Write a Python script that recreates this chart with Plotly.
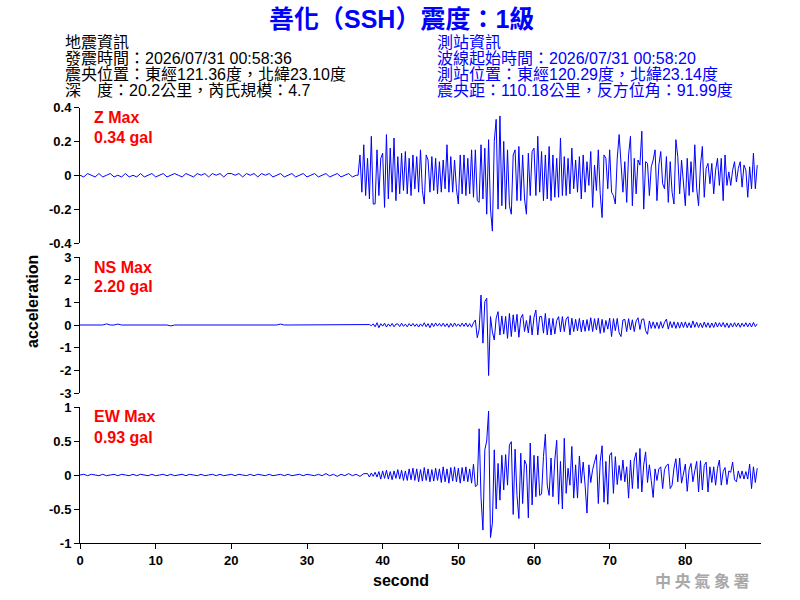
import numpy as np
import plotly.graph_objects as go

# ---------------- data (units: 0.01 gal) ----------------
# quiet part sampled every 0.5 s from t=0, active part every 0.25 s
z_quiet = [0,-1,1,0,-1,1,-1,0,1,-1, 0,-1,1,-1,0,-1,1,-1,0,1,
           -1,0,1,-1,0,1,0,-1,1,0, -1,1,0,1,-1,1,0,1,-1,1,
           1,0,1,-1,1,0,1,-1,1,0, 1,-1,0,1,-1,0,1,-1,0,1,
           -1,0,1,-1,0,1,-1,0,1,-1, 0,1,-1,0]
z_active_start = 36.75
z_active = [0,
    12,-10,18,-12, 10,-14,23,-17, -17,15,-12,10, 13,-19,24,-14, 16,-10,22,-15,
    11,-11,13,-9, 14,-11,10,-12, 12,-8,11,-10, 15,-9,-17,12, 9,-10,11,-9,
    10,-11,8,-10, 9,-8,18,-10, 11,-10,9,-8, -17,12,-11,12, -12,10,-11,15,
    -13,15,-15,-16, 18,-14,16,-23, 21,-20,-33,20, 33,-20,35,-18, 20,-20,15,-18,
    -23,12,15,-15, 17,-15,12,-14, -23,13,-12,14, 16,-12,23,-10, 14,-15,12,-14,
    17,-15,12,-13, 10,-13,22,-12, 11,-12,10,-11, 16,-8,9,-10, 11,-14,12,-10,
    8,-6,14,-19, 6,-9,15,-11, -25,12,10,-8, 15,-10,-12,-17, 10,24,9,-10,
    8,-16,12,23, -18,10,-11,9, 6,26,-20,8, 7,-12,5,9, 15,-15,6,14,
    -5,-8,11,-16, 8,-10,-17,21, 11,-11,9,-6, -18,10,-12,8, -10,18,-8,-18,
    6,17,-13,4, 7,-5,7,-11, 3,10,-6,10, -15,12,-6,2, -6,3,8,-4,
    4,8,-7,6, 3,-13,5,-8, 13,-8,6]

ns_quiet = [0,0,0,0,0,0,0,5,0,0, 4,0,0,0,0,0,0,0,0,0,
            0,0,0,0,-4,0,0,0,0,0, 0,0,0,0,0,0,0,0,0,0,
            0,0,0,0,0,0,0,0,0,0, 0,0,0,4,0,0,0,0,0,0,
            0,0,0,0,0,0,0,0,0,0, 0,0,0,0,0,0]
ns_active_start = 38.0
ns_active = [
    0,2,-3,5, -8,10,-12,6, -5,8,-9,5, -6,7,-8,4, 5,-7,8,-6,
    4,-8,6,-5, 7,-6,5,-9, 5,-6,10,-8, 6,-12,8,-7, 9,-5,7,-6,
    8,-7,6,-10, 7,-8,9,-6, 5,-7,8,-6, 9,-8,6,-10, 10,22,-56,-20,
    132,-80,103,118, -223,37,-30,-66, 30,59,-44,40, -40,38,-59,51, -51,45,-30,47,
    -54,30,47,-29, 20,-35,42,-44, 35,66,-44,37, 38,-36,51,-44, 30,-44,29,-40,
    20,37,-30,37, -29,26,37,-44, 30,-29,25,-26, 29,-30,22,-28, 24,-25,32,-29,
    28,-22,30,-37, 25,-33,20,-18, 30,-51,28,-25, 29,-35,-51,22, 25,-29,28,-22,
    23,-29,18,32, -20,25,27,-25, -41,18,-15,14, -15,12,-16,15, -14,12,26,-18,
    15,-12,14,-15, 12,-14,13,-11, 14,-12,10,-13, 18,-10,12,-11, 9,-12,13,-10,
    10,-12,9,-11, 12,-9,10,-8, 11,-10,9,-12, 8,-9,10,-8, 9,-10,8,-7,
    10,-8,9,-9, 11,-7,5]

ew_quiet = [0,1,-1,1,0,-1,1,-1,0,1, -1,1,0,-1,1,-1,1,0,-1,1,
            -1,0,1,-1,1,-1,0,1,-1,1, 0,-1,1,-1,0,1,-1,1,-1,0,
            1,-1,1,0,-1,1,-1,1,0,-1, 1,-1,0,1,-1,1,-1,0,1,-1,
            1,0,-1,1,-1,2,-1,1,-2,1, -1,2,-1,1,-2,2]
ew_active_start = 38.0
ew_active = [
    2,-3,3,-2, 4,-3,5,-6, 6,-5,7,-6, 5,-7,6,-5, 8,-6,7,-8,
    6,-8,9,-7, 10,-8,9,-10, 8,-9,11,-8, 9,-10,8,-9, 10,-8,9,-11,
    12,-10,9,-12, 11,-9,12,-10, 10,-12,11,-9, 12,-10,9,-12, 16,-17,-15,68,
    -33,-81,37,50, 94,-92,-71,37, -50,17,-37,29, -22,30,-15,44, 49,-58,38,-30,
    -64,32,-42,22, 15,-63,47,-44, 29,-32,28,-30, -28,27,60,-15, -30,25,-32,22,
    51,-43,20,-50, 54,-27,10,-15, 42,-34,15,-34, 28,-12,19,-15, -56,15,-11,8,
    19,30,-42,20, 43,-40,20,-43, 29,33,-27,27, -14,14,-8,22, -10,12,-34,22,
    -20,22,33,-20, 39,-25,15,34, -11,15,-8,-33, 9,-8,9,12, -20,8,14,16,
    -20,-15,10,24, -10,25,-12,5, 16,-24,8,17, -10,6,20,-25, 21,-22,14,19,
    -25,12,-11,12, -15,10,22,-15, 5,11,-14,6, 4,19,-7,-10, 6,-5,6,-6,
    5,-6,16,-20, 12,-11,10]

components = ["Z", "NS", "EW"]
max_labels = ["0.34 gal", "2.20 gal", "0.93 gal"]
y_ranges = [[-0.4, 0.4], [-3, 3], [-1, 1]]
y_ticks = [[-0.4, -0.2, 0, 0.2, 0.4], [-3, -2, -1, 0, 1, 2, 3], [-1, -0.5, 0, 0.5, 1]]
y_ticktext = [["-0.4", "-0.2", "0", "0.2", "0.4"],
              ["-3", "-2", "-1", "0", "1", "2", "3"],
              ["-1", "-0.5", "0", "0.5", "1"]]
x_ticks = [0, 10, 20, 30, 40, 50, 60, 70, 80]

info_left = ["地震資訊", "發震時間：2026/07/31 00:58:36",
             "震央位置：東經121.36度，北緯23.10度", "深　度：20.2公里，芮氏規模：4.7"]
info_right = ["測站資訊", "波線起始時間：2026/07/31 00:58:20",
              "測站位置：東經120.29度，北緯23.14度", "震央距：110.18公里，反方位角：91.99度"]


def build(quiet, start, active):
    tq = np.arange(len(quiet)) * 0.5
    ta = start + np.arange(len(active)) * 0.25
    t = np.concatenate([tq, ta])
    v = np.concatenate([np.array(quiet, float), np.array(active, float)]) * 0.01
    return t, v


series = [build(z_quiet, z_active_start, z_active),
          build(ns_quiet, ns_active_start, ns_active),
          build(ew_quiet, ew_active_start, ew_active)]

W, H = 800, 600
LAT = "Liberation Sans, Arial, Noto Sans CJK TC"

# pixel layout of the three panels (top, bottom)
panels = [(107.5, 243), (257, 393), (407, 543)]
x0px, x1px = 80, 761

fig = go.Figure()
layout = dict(width=W, height=H, margin=dict(l=0, r=0, t=0, b=0, autoexpand=False),
              paper_bgcolor="white", plot_bgcolor="white", showlegend=False)

for i, (t, v) in enumerate(series):
    n = "" if i == 0 else str(i + 1)
    fig.add_trace(go.Scatter(x=t, y=v, mode="lines", line=dict(color="#0000FF", width=1),
                             xaxis="x" + n, yaxis="y" + n, hoverinfo="skip"))
    top, bot = panels[i]
    layout["xaxis" + n] = dict(domain=[x0px / W, x1px / W], range=[0, 90], anchor="y" + n,
                               automargin=False, showgrid=False, zeroline=False,
                               showline=(i == 2), linecolor="black", linewidth=1,
                               ticks="outside" if i == 2 else "", ticklen=5, tickcolor="black",
                               tickvals=x_ticks, showticklabels=(i == 2),
                               tickfont=dict(family=LAT, size=13, color="black", weight="bold"))
    layout["yaxis" + n] = dict(domain=[1 - bot / H, 1 - top / H], range=y_ranges[i],
                               anchor="x" + n, automargin=False, showgrid=False, zeroline=False,
                               showline=True, linecolor="black", linewidth=1,
                               ticks="outside", ticklen=5, tickcolor="black",
                               tickvals=y_ticks[i], ticktext=y_ticktext[i],
                               tickfont=dict(family=LAT, size=13, color="black", weight="bold"))

fig.update_layout(**layout)

ann = []
ann.append(dict(text="善化（SSH）震度：1級", x=402 / W, y=1 - 19 / H, xref="paper", yref="paper",
                xanchor="center", yanchor="middle", showarrow=False,
                font=dict(family=LAT, size=25, color="#0000FF", weight="bold")))
line_y = [42, 58, 74.5, 90.5]
for j, s in enumerate(info_left):
    ann.append(dict(text=s, x=64 / W, y=1 - line_y[j] / H, xref="paper", yref="paper",
                    xanchor="left", yanchor="middle", showarrow=False, borderpad=0,
                    font=dict(family=LAT, size=16, color="black")))
for j, s in enumerate(info_right):
    ann.append(dict(text=s, x=436 / W, y=1 - line_y[j] / H, xref="paper", yref="paper",
                    xanchor="left", yanchor="middle", showarrow=False, borderpad=0,
                    font=dict(family=LAT, size=16, color="#0000FF")))
for i, comp in enumerate(components):
    top = panels[i][0]
    ann.append(dict(text=comp + " Max", x=92 / W, y=1 - (top + 10) / H, xref="paper", yref="paper",
                    xanchor="left", yanchor="middle", showarrow=False,
                    font=dict(family=LAT, size=16, color="#FF0000", weight="bold")))
    ann.append(dict(text=max_labels[i], x=92 / W, y=1 - (top + 30) / H, xref="paper", yref="paper",
                    xanchor="left", yanchor="middle", showarrow=False,
                    font=dict(family=LAT, size=16, color="#FF0000", weight="bold")))
ann.append(dict(text="acceleration", x=32 / W, y=1 - 302 / H, xref="paper", yref="paper",
                xanchor="center", yanchor="middle", textangle=-90, showarrow=False,
                font=dict(family=LAT, size=16, color="black", weight="bold")))
ann.append(dict(text="second", x=401 / W, y=1 - 580 / H, xref="paper", yref="paper",
                xanchor="center", yanchor="middle", showarrow=False,
                font=dict(family=LAT, size=16, color="black", weight="bold")))
ann.append(dict(text="中 央 氣 象 署", x=702 / W, y=1 - 580 / H, xref="paper", yref="paper",
                xanchor="center", yanchor="middle", showarrow=False,
                font=dict(family="Noto Sans CJK TC", size=16, color="#A8A8A8", weight="bold")))
fig.update_layout(annotations=ann)

fig.write_html("out.html")
